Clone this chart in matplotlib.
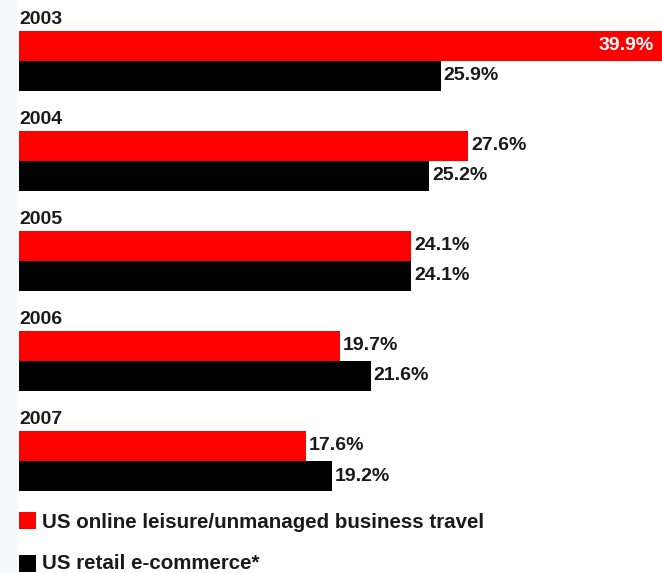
import matplotlib.pyplot as plt
import numpy as np
from matplotlib.patches import Rectangle

# data
years = ['2003', '2004', '2005', '2006', '2007']
travel = [39.9, 27.6, 24.1, 19.7, 17.6]      # US online leisure/unmanaged business travel
ecommerce = [25.9, 25.2, 24.1, 21.6, 19.2]   # US retail e-commerce*
labels = ['US online leisure/unmanaged business travel', 'US retail e-commerce*']

RED = '#ff0000'
BLACK = '#000000'
TXT = '#1a1a1a'

plt.rcParams['font.family'] = ['Liberation Sans', 'DejaVu Sans']

fig = plt.figure(figsize=(6.62, 5.73), dpi=100)
# faint strip down the left edge
fig.patches.append(Rectangle((0, 0), 18 / 662, 1, transform=fig.transFigure,
                             color='#f6f8fa', linewidth=0, zorder=0))
ax = fig.add_axes([0, 0, 1, 1])
ax.axis('off')
ax.patch.set_visible(False)

# 16.28 px per percent, bars start at x=19px; 100 px per year group
pxu = 16.28
ax.set_xlim(-19 / pxu, (662 - 19) / pxu)
ax.set_ylim(5.73 - 0.61, -0.61)

y = np.arange(len(years))
h = 0.30
ax.barh(y - h / 2, travel, height=h, color=RED, linewidth=0)
ax.barh(y + h / 2, ecommerce, height=h, color=BLACK, linewidth=0)

pad = 3 / pxu
for i, yr in enumerate(years):
    ax.text(0, i - 0.37, yr, fontsize=14, fontweight='bold', color=TXT,
            ha='left', va='baseline')
    if i == 0:
        ax.text(travel[i] - 15 / pxu, i - h / 2, f'{travel[i]}%', fontsize=14,
                fontweight='bold', color='white', ha='right', va='center')
    else:
        ax.text(travel[i] + pad, i - h / 2, f'{travel[i]}%', fontsize=14,
                fontweight='bold', color=TXT, ha='left', va='center')
    ax.text(ecommerce[i] + pad, i + h / 2, f'{ecommerce[i]}%', fontsize=14,
            fontweight='bold', color=TXT, ha='left', va='center')

# legend
for (ytop, yb), col, lab in zip([(4.51, 4.67), (4.94, 5.08)], [RED, BLACK], labels):
    ax.add_patch(Rectangle((0, ytop), 17 / pxu, 0.17, color=col, linewidth=0, clip_on=False))
    ax.text(23 / pxu, yb, lab, fontsize=14.8, fontweight='bold', color=TXT,
            ha='left', va='baseline')

fig.savefig('out.png', dpi=100)
